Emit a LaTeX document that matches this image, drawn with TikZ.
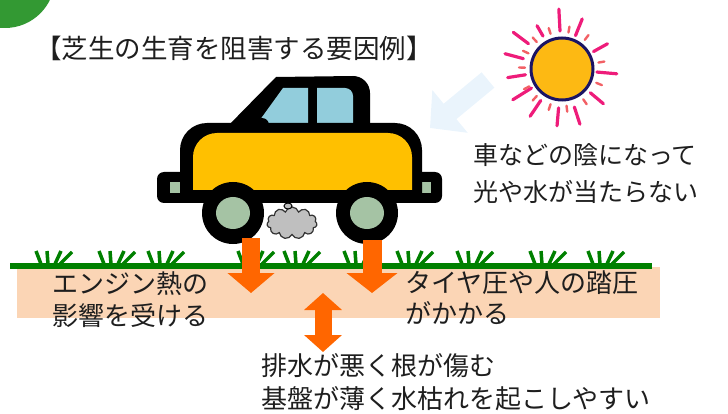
\documentclass[tikz,border=0pt]{standalone}
\usepackage{fontspec}
\newfontfamily\jpfont{Noto Sans CJK JP}
\usetikzlibrary{arrows.meta,shapes.symbols}
\definecolor{leaf}{HTML}{339933}
\definecolor{turf}{HTML}{008000}
\definecolor{soil}{HTML}{FBD5B5}
\definecolor{push}{HTML}{FF6600}
\definecolor{sunfill}{HTML}{FDB913}
\definecolor{sunline}{HTML}{1B1464}
\definecolor{raypink}{HTML}{EE1C7A}
\definecolor{raysalmon}{HTML}{F26065}
\definecolor{shadeblue}{HTML}{EAF4FC}
\definecolor{carbody}{HTML}{FFC000}
\definecolor{glass}{HTML}{92CDDC}
\definecolor{hub}{HTML}{A5C3A4}
\definecolor{smoke}{HTML}{BFBFBF}
\definecolor{ink}{HTML}{1E1E1E}

\begin{document}
\begin{tikzpicture}[x=1pt,y=-1pt,
  note/.style={font=\jpfont\fontsize{26}{#1}\selectfont,text=ink,align=left,inner sep=0pt,anchor=west},
  blade/.style={turf,line width=3.5pt},
  ray/.style={raypink,line width=3.2pt,line cap=round},
  spark/.style={raysalmon,line width=2.4pt,line cap=round}]
  \useasboundingbox (0,0) rectangle (728,414);
  \clip (0,0) rectangle (728,414);
  \fill[leaf] (5,-22) circle (50);
  \node[note=30,font=\jpfont\fontsize{26.5}{30}\selectfont] (title) at (35,48) {【芝生の生育を阻害する要因例】};

  % sun: long rays, short sparks, disc
  \foreach \a/\r/\l in {-93/38/22,-68/36/18,-29/36/16,5/35/20,40/37/17,72/40/18,95/39/18,124/38/19,148/36/22,171/37/18,-165/40/19,-143/42/19,-120/38/12}
    \draw[ray] (562,69) ++(\a:\r) -- ++(\a:\l);
  \foreach \a in {-108,-80,-52,-10,22,55,83,108,133,152,-178,-155,-133}
    \draw[spark] (562,69) ++(\a:37) -- ++(\a:6);
  \filldraw[fill=sunfill,draw=sunline,line width=3pt] (562,69) circle (31);
  \draw[shadeblue,line width=20pt,-{Triangle[length=26pt,width=54pt]}] (488,80) -- (430,128);
  \node[note=37,font=\jpfont\fontsize{25}{37}\selectfont] (shade) at (473,174) {車などの陰になって\\光や水が当たらない};

  % car
  \fill[black,rounded corners=7] (157,172) rectangle (190,203);
  \fill[black,rounded corners=7] (410,172) rectangle (442,203);
  \fill[hub] (170,182) rectangle (182,193);
  \fill[hub] (421,182) rectangle (431,193);
  \fill[black] (225,129) -- (276,77) -- (353,76) arc[start angle=-90,end angle=0,radius=17] -- (370,129) -- cycle;
  \fill[glass] (257,124) -- (283,88) -- (308,88) -- (308,124) -- cycle;
  \fill[glass] (317,88) -- (345,88) arc[start angle=-90,end angle=0,radius=8] -- (353,124) -- (317,124) -- cycle;
  \fill[black] (262,125) circle (7);
  \fill[black] (180,203) -- (180,150) arc[start angle=180,end angle=270,radius=27] -- (395,123) arc[start angle=-90,end angle=0,radius=27] -- (422,203) -- cycle;
  \fill[carbody] (193,190) -- (193,157) arc[start angle=180,end angle=270,radius=24] -- (388,133) arc[start angle=-90,end angle=0,radius=24] -- (412,190) -- cycle;
  \foreach \wx in {233,367} {
    \fill[black] (\wx,213) circle (31);
    \fill[hub] (\wx,213) ellipse (17 and 16);
  }
  \node[cloud,cloud puffs=11,draw=black!80,fill=smoke,line width=1.2pt,minimum width=50pt,minimum height=32pt] (smoke) at (292,223) {};
  \draw[fill=smoke,line width=1pt] (288,206) ellipse (4 and 3);

  % ground and turf
  \fill[soil] (17,267) rectangle (660,318);
  \draw[turf,line width=6pt] (10,266) -- (652,266);
  \foreach \gx in {35,98,147,237,283,343,396,456,529,587} {
    \draw[blade] (\gx+1,251) -- (\gx+6,264);
    \draw[blade] (\gx+12,251) -- (\gx+13,264);
    \draw[blade] (\gx+26,251) -- (\gx+20,264);
    \draw[blade] (\gx+37,252) -- (\gx+25,264);
  }

  % loads on the turf
  \draw[push,line width=18pt,-{Triangle[length=20pt,width=46pt]}] (251,238) -- (251,293);
  \draw[push,line width=19pt,-{Triangle[length=20pt,width=50pt]}] (372,240) -- (372,293);
  \draw[push,line width=17pt,{Triangle[length=17pt,width=37pt]}-{Triangle[length=17pt,width=37pt]}] (323,293) -- (323,352);

  \node[note=32] (engine) at (52,300) {エンジン熱の\\影響を受ける};
  \node[note=31] (tyre) at (405,298) {タイヤ圧や人の踏圧\\がかかる};
  \node[note=33] (drain) at (261,382) {排水が悪く根が傷む\\基盤が薄く水枯れを起こしやすい};
\end{tikzpicture}
\end{document}
